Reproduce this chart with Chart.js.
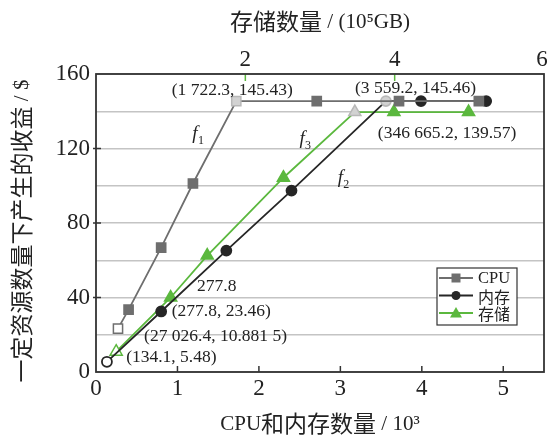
<!DOCTYPE html>
<html>
<head>
<meta charset="utf-8">
<script src="https://cdn.jsdelivr.net/npm/chart.js@4.4.1/dist/chart.umd.min.js"></script>
<style>
  html, body { margin: 0; padding: 0; background: #fff; }
  #wrap { width: 547px; height: 437px; }
</style>
</head>
<body>
<div id="wrap"><canvas id="chart-rev" width="547" height="437"></canvas></div>
<script>
// 收益曲线：CPU / 内存 (下轴, 10^3) 和 存储 (上轴, 10^5 GB)
const cpuX = [0.27, 0.40, 0.80, 1.19, 1.7223, 2.71, 3.72, 4.70];
const cpuY = [23.3, 33.5, 66.8, 101.2, 145.43, 145.43, 145.43, 145.43];
const memX = [0.1341, 0.80, 1.60, 2.40, 3.5592, 3.99, 4.79];
const memY = [5.48, 32.5, 65.2, 97.4, 145.46, 145.46, 145.46];
const stoX = [0.270264, 1.00, 1.49, 2.51, 3.466652, 3.99, 4.99];
const stoY = [10.8815, 40.0, 62.5, 104.3, 139.57, 139.57, 139.57];

const seriesNames = ['CPU', '内存', '存储'];
const yTicks = [0, 40, 80, 120, 160];
const xTicks = [0, 1, 2, 3, 4, 5];
const x2Ticks = [2, 4, 6];

const xTitle = 'CPU和内存数量 / 10³';
const x2Title = '存储数量 / (10⁵GB)';
const yTitle = '一定资源数量下产生的收益 / $';

// 注释文字（数据坐标, 下轴 x）
const notes = [
  { text: '(1 722.3, 145.43)', x: 0.93, y: 151.0 },
  { text: '(3 559.2, 145.46)', x: 3.18, y: 152.1 },
  { text: '(346 665.2, 139.57)', x: 3.46, y: 128.0 },
  { text: '277.8', x: 1.24, y: 45.9 },
  { text: '(277.8, 23.46)', x: 0.93, y: 32.5 },
  { text: '(27 026.4, 10.881 5)', x: 0.59, y: 19.0 },
  { text: '(134.1, 5.48)', x: 0.37, y: 7.8 }
];
const fLabels = [
  { sub: '1', x: 1.215, y: 128.0 },
  { sub: '3', x: 2.53, y: 125.2 },
  { sub: '2', x: 3.0, y: 104.2 }
];

const C_CPU = '#6e6e6e';
const C_MEM = '#262626';
const C_STO = '#5bb83e';
const LIGHT = '#d2d2d2';
const LIGHT_B = '#b8b8b8';
const SERIF = "'Liberation Serif', 'Noto Sans CJK SC', serif";
const CJK = "'Noto Sans CJK SC', sans-serif";

const toPts = (xs, ys) => xs.map((x, i) => ({ x, y: ys[i] }));

function pointColors(n, turn, color) {
  return {
    bg: Array.from({ length: n }, (_, i) => (i === 0 ? '#ffffff' : i === turn ? LIGHT : color)),
    border: Array.from({ length: n }, (_, i) => (i === turn ? LIGHT_B : color))
  };
}
const cpuC = pointColors(cpuX.length, 4, C_CPU);
const memC = pointColors(memX.length, 4, C_MEM);
const stoC = pointColors(stoX.length, 4, C_STO);

// 中文用大一点的黑体, 西文用衬线体
function runs(text) {
  const out = [];
  for (const ch of text) {
    const cjk = /[\u4e00-\u9fff]/.test(ch);
    if (out.length && out[out.length - 1].cjk === cjk) out[out.length - 1].s += ch;
    else out.push({ cjk, s: ch });
  }
  return out;
}
function drawMixed(ctx, text, cx, cy, rot) {
  const parts = runs(text).map(r => ({ ...r, font: r.cjk ? '23px ' + CJK : '21px ' + SERIF }));
  let total = 0;
  parts.forEach(p => { ctx.font = p.font; p.w = ctx.measureText(p.s).width; total += p.w; });
  ctx.save();
  ctx.translate(cx, cy);
  ctx.rotate(rot || 0);
  ctx.textBaseline = 'middle';
  ctx.textAlign = 'left';
  ctx.fillStyle = '#222';
  let x = -total / 2;
  parts.forEach(p => { ctx.font = p.font; ctx.fillText(p.s, x, p.cjk ? 0 : 1); x += p.w; });
  ctx.restore();
}

const framePlugin = {
  id: 'frame',
  afterDatasetsDraw(chart) {
    const { ctx, chartArea: a, scales } = chart;
    ctx.save();
    // 刻度线（向内）
    ctx.lineWidth = 1.5;
    ctx.strokeStyle = '#333';
    [40, 80, 120].forEach(v => {
      const py = scales.y.getPixelForValue(v);
      ctx.beginPath(); ctx.moveTo(a.left - 3, py); ctx.lineTo(a.left + 5, py); ctx.stroke();
    });
    [1, 2, 3, 4, 5].forEach(v => {
      const px = scales.x.getPixelForValue(v);
      ctx.beginPath(); ctx.moveTo(px, a.bottom); ctx.lineTo(px, a.bottom - 6); ctx.stroke();
    });
    ctx.strokeStyle = C_STO;
    [2, 4].forEach(v => {
      const px = scales.x2.getPixelForValue(v);
      ctx.beginPath(); ctx.moveTo(px, a.top); ctx.lineTo(px, a.top + 7); ctx.stroke();
    });
    // 外框
    ctx.strokeStyle = '#333';
    ctx.lineWidth = 1.8;
    ctx.strokeRect(a.left, a.top, a.right - a.left, a.bottom - a.top);

    // 上轴刻度标签
    ctx.fillStyle = '#222';
    ctx.font = '23px ' + SERIF;
    ctx.textBaseline = 'middle';
    ctx.textAlign = 'center';
    x2Ticks.forEach(v => {
      let px = scales.x2.getPixelForValue(v);
      if (v === 6) px -= 2;
      ctx.fillText(String(v), px, a.top - 14);
    });

    // 轴标题
    drawMixed(ctx, x2Title, (a.left + a.right) / 2, 21, 0);
    drawMixed(ctx, xTitle, (a.left + a.right) / 2, 423, 0);
    drawMixed(ctx, yTitle, 21, (a.top + a.bottom) / 2 + 8, -Math.PI / 2);

    // 注释
    ctx.fillStyle = '#222';
    ctx.font = '17.5px ' + SERIF;
    ctx.textBaseline = 'middle';
    ctx.textAlign = 'left';
    notes.forEach(n => {
      ctx.fillText(n.text, scales.x.getPixelForValue(n.x), scales.y.getPixelForValue(n.y));
    });
    fLabels.forEach(f => {
      const px = scales.x.getPixelForValue(f.x), py = scales.y.getPixelForValue(f.y);
      ctx.font = 'italic 19px ' + SERIF;
      ctx.textAlign = 'center';
      ctx.fillText('f', px, py);
      ctx.font = '12px ' + SERIF;
      ctx.textAlign = 'left';
      ctx.fillText(f.sub, px + 3, py + 7);
    });

    // 图例
    const lx = a.right - 107, ly = a.bottom - 104;
    ctx.lineWidth = 1.2;
    ctx.strokeStyle = '#333';
    ctx.fillStyle = '#fff';
    ctx.fillRect(lx, ly, 80, 57);
    ctx.strokeRect(lx, ly, 80, 57);
    const items = [
      { color: C_CPU, shape: 'rect' },
      { color: C_MEM, shape: 'circle' },
      { color: C_STO, shape: 'triangle' }
    ];
    items.forEach((it, i) => {
      const yy = ly + 10 + i * 17.5;
      ctx.strokeStyle = it.color;
      ctx.fillStyle = it.color;
      ctx.lineWidth = 1.8;
      ctx.beginPath(); ctx.moveTo(lx + 2, yy); ctx.lineTo(lx + 36, yy); ctx.stroke();
      const cx = lx + 19;
      ctx.beginPath();
      if (it.shape === 'rect') ctx.rect(cx - 4.5, yy - 4.5, 9, 9);
      else if (it.shape === 'circle') ctx.arc(cx, yy, 4.5, 0, Math.PI * 2);
      else { ctx.moveTo(cx, yy - 6); ctx.lineTo(cx + 6, yy + 4.5); ctx.lineTo(cx - 6, yy + 4.5); ctx.closePath(); }
      ctx.fill();
      ctx.fillStyle = '#222';
      ctx.font = (i === 0 ? '16.5px ' + SERIF : '16px ' + CJK);
      ctx.textAlign = 'left';
      ctx.fillText(seriesNames[i], lx + 41, yy + 1);
    });
    ctx.restore();
  }
};

Chart.defaults.font.family = SERIF;
Chart.defaults.color = '#222';

const noPad = s => { s.paddingLeft = 0; s.paddingRight = 0; s.paddingTop = 0; s.paddingBottom = 0; };

new Chart(document.getElementById('chart-rev'), {
  type: 'line',
  data: {
    datasets: [
      {
        label: seriesNames[0], data: toPts(cpuX, cpuY), xAxisID: 'x', yAxisID: 'y',
        borderColor: C_CPU, borderWidth: 1.8, pointStyle: 'rect', pointRadius: 6.5,
        pointBackgroundColor: cpuC.bg, pointBorderColor: cpuC.border, pointBorderWidth: 1.5, tension: 0
      },
      {
        label: seriesNames[1], data: toPts(memX, memY), xAxisID: 'x', yAxisID: 'y',
        borderColor: C_MEM, borderWidth: 1.8, pointStyle: 'circle', pointRadius: 5,
        pointBackgroundColor: memC.bg, pointBorderColor: memC.border, pointBorderWidth: 1.8, tension: 0
      },
      {
        label: seriesNames[2], data: toPts(stoX, stoY), xAxisID: 'x2', yAxisID: 'y',
        borderColor: C_STO, borderWidth: 1.8, pointStyle: 'triangle', pointRadius: 7,
        pointBackgroundColor: stoC.bg, pointBorderColor: stoC.border, pointBorderWidth: 1.5, tension: 0
      }
    ]
  },
  options: {
    responsive: false,
    animation: false,
    layout: { autoPadding: false, padding: { left: 0, right: 3, top: 0, bottom: 0 } },
    plugins: { legend: { display: false }, tooltip: { enabled: false } },
    scales: {
      x: {
        type: 'linear', position: 'bottom', min: 0, max: 5.5,
        afterBuildTicks: s => { s.ticks = xTicks.map(v => ({ value: v })); },
        afterFit: s => { s.height = 65; noPad(s); },
        ticks: { padding: 3, font: { size: 23 }, color: '#222', maxRotation: 0 },
        grid: { display: false, drawTicks: false },
        border: { display: false }
      },
      x2: {
        type: 'linear', position: 'top', min: 0, max: 6,
        afterBuildTicks: s => { s.ticks = x2Ticks.map(v => ({ value: v })); },
        afterFit: s => { s.height = 74; noPad(s); },
        ticks: { display: false },
        grid: { display: false, drawTicks: false },
        border: { display: false }
      },
      y: {
        type: 'linear', min: 0, max: 160,
        afterBuildTicks: s => { s.ticks = [0, 20, 40, 60, 80, 100, 120, 140, 160].map(v => ({ value: v })); },
        afterFit: s => { s.width = 96; noPad(s); },
        ticks: {
          padding: 6, font: { size: 23 }, color: '#222',
          callback: v => (yTicks.includes(v) ? v : '')
        },
        grid: { color: '#c4c4c4', lineWidth: 1.5, drawTicks: false },
        border: { display: false }
      }
    }
  },
  plugins: [framePlugin]
});
</script>
</body>
</html>
